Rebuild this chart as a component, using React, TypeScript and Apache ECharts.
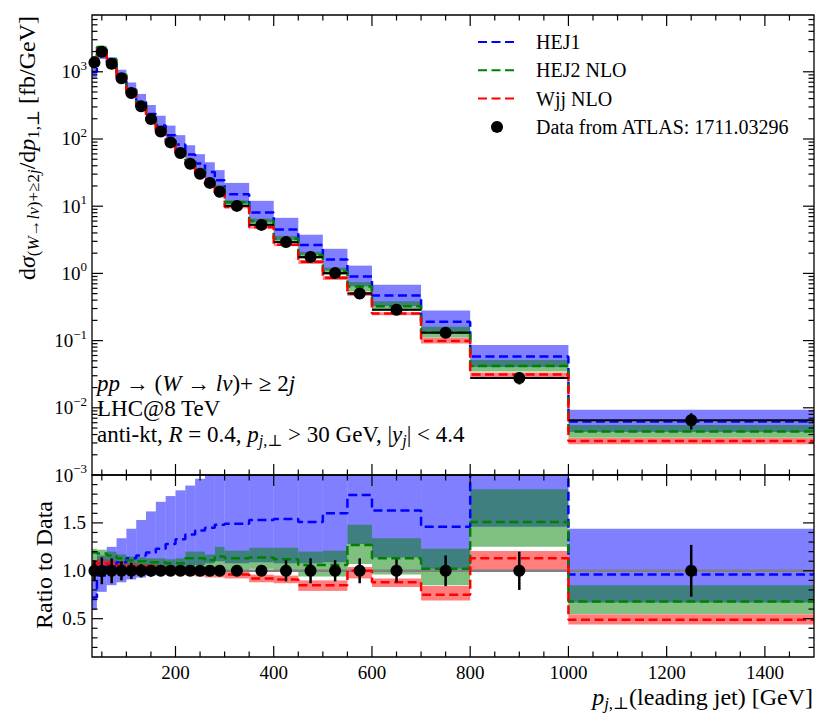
import React, { useEffect, useRef } from "react";
import * as echarts from "echarts";

// ---------------- data ----------------
const binEdges = [30, 40, 60, 80, 100, 120, 140, 160, 180, 200, 220, 240, 260, 280, 300, 350, 400, 450, 500, 550, 600, 700, 800, 1000, 1500];

// ATLAS data, dsigma/dp [fb/GeV], per bin
const dataValues = [1380, 1990, 1320, 800, 483, 306, 198, 129, 89, 62, 42.7, 30.3, 22.2, 16.4, 10.1, 5.27, 2.92, 1.75, 1.01, 0.502, 0.288, 0.131, 0.0278, 0.00652];
// relative uncertainty of the data
const dataRelErr = [0.11, 0.14, 0.13, 0.1, 0.085, 0.07, 0.06, 0.055, 0.05, 0.045, 0.04, 0.04, 0.04, 0.04, 0.035, 0.04, 0.11, 0.13, 0.11, 0.13, 0.12, 0.16, 0.2, 0.27];

// predictions as ratio to data: central, lower and upper band edge
const hej1Ratio = [0.72, 0.95, 1.05, 1.09, 1.13, 1.16, 1.19, 1.23, 1.28, 1.33, 1.38, 1.42, 1.45, 1.48, 1.49, 1.53, 1.54, 1.51, 1.6, 1.79, 1.63, 1.46, 2.09, 0.96];
const hej1Low = [0.59, 0.78, 0.85, 0.88, 0.91, 0.93, 0.95, 0.96, 0.97, 0.99, 1.03, 1.06, 1.08, 1.1, 1.08, 1.09, 1.08, 1.08, 1.09, 1.28, 1.14, 1.02, 1.46, 0.67];
const hej1High = [1.04, 1.16, 1.25, 1.34, 1.44, 1.53, 1.62, 1.72, 1.78, 1.84, 1.89, 1.96, 2.03, 2.1, 2.2, 2.28, 2.3, 2.15, 2.3, 2.6, 2.35, 2.15, 3.1, 1.44];

const hej2Ratio = [1.19, 1.18, 1.16, 1.13, 1.11, 1.1, 1.09, 1.09, 1.08, 1.08, 1.13, 1.13, 1.11, 1.15, 1.13, 1.14, 1.12, 1.06, 1.06, 1.27, 1.13, 1.02, 1.51, 0.68];
const hej2Low = [1.1, 1.1, 1.08, 1.05, 1.03, 1.02, 1.01, 1.0, 1.0, 1.0, 1.02, 1.02, 1.0, 1.02, 1.01, 1.02, 1.0, 0.94, 0.94, 1.07, 0.96, 0.85, 1.25, 0.55];
const hej2High = [1.23, 1.22, 1.2, 1.17, 1.15, 1.14, 1.13, 1.13, 1.12, 1.13, 1.2, 1.2, 1.17, 1.25, 1.21, 1.24, 1.24, 1.2, 1.21, 1.48, 1.34, 1.23, 1.85, 0.85];

const wjjRatio = [1.07, 1.08, 1.07, 1.05, 1.04, 1.03, 1.03, 1.02, 1.01, 1.0, 0.99, 0.98, 0.97, 0.97, 0.96, 0.92, 0.91, 0.85, 0.85, 1.0, 0.88, 0.75, 1.13, 0.49];
const wjjLow = [1.03, 1.04, 1.03, 1.01, 1.0, 0.99, 0.99, 0.98, 0.97, 0.96, 0.95, 0.94, 0.93, 0.93, 0.92, 0.88, 0.87, 0.79, 0.79, 0.92, 0.83, 0.69, 1.005, 0.44];
const wjjHigh = [1.11, 1.12, 1.11, 1.09, 1.08, 1.07, 1.07, 1.06, 1.05, 1.04, 1.03, 1.02, 1.01, 1.01, 1.005, 0.96, 0.95, 0.9, 0.9, 1.04, 0.92, 0.84, 1.207, 0.546];

const seriesNames = ["HEJ1", "HEJ2 NLO", "Wjj NLO", "Data from ATLAS: 1711.03296"];

// ticks / labels
const xLabelValues = [200, 400, 600, 800, 1000, 1200, 1400];
const xMinorTicks = [50, 100, 150, 250, 300, 350, 450, 500, 550, 650, 700, 750, 850, 900, 950, 1050, 1100, 1150, 1250, 1300, 1350, 1450];
const ratioLabelValues = [0.5, 1.0, 1.5];
const ratioMinorTicks = [0.2, 0.3, 0.4, 0.6, 0.7, 0.8, 0.9, 1.1, 1.2, 1.3, 1.4, 1.6, 1.7, 1.8, 1.9];
const logDecades = [-3, -2, -1, 0, 1, 2, 3];
const logMinorFactors = [2, 3, 4, 5, 6, 7, 8, 9];

// ---------------- helpers ----------------
const FONT = "'Liberation Serif', 'DejaVu Serif', serif";
const BLUE = "#0000ff";
const GREEN = "#008000";
const RED = "#ff0000";
const DASH = [9, 4.5];

const nLast = binEdges.length - 1;
const binCenters = dataValues.map((_, i) => (binEdges[i] + binEdges[i + 1]) / 2);
const ones = dataValues.map((v) => v / v);

function stepPoints(vals: number[], scale: number[]) {
  const pts = vals.map((v, i) => [binEdges[i], v * scale[i]]);
  pts.push([binEdges[nLast], vals[vals.length - 1] * scale[vals.length - 1]]);
  return pts;
}
function bandItems(lo: number[], hi: number[], scale: number[]) {
  return lo.map((l, i) => [binEdges[i], binEdges[i + 1], l * scale[i], hi[i] * scale[i]]);
}

function bandRender(fill: string) {
  return (params: any, api: any) => {
    const cs = params.coordSys;
    const p0 = api.coord([api.value(0), api.value(3)]);
    const p1 = api.coord([api.value(1), api.value(2)]);
    const top = Math.max(Math.min(p0[1], p1[1]), cs.y);
    const bot = Math.min(Math.max(p0[1], p1[1]), cs.y + cs.height);
    const left = Math.max(Math.min(p0[0], p1[0]), cs.x);
    const right = Math.min(Math.max(p0[0], p1[0]), cs.x + cs.width);
    if (bot <= top || right <= left) return null;
    return {
      type: "rect",
      shape: { x: left, y: top, width: right - left, height: bot - top },
      style: { fill },
      silent: true,
    };
  };
}

function errRender(withHoriz: boolean) {
  return (params: any, api: any) => {
    const c = api.value(0);
    const a = api.coord([c, api.value(1)]);
    const b = api.coord([c, api.value(2)]);
    const style = { stroke: "#000", lineWidth: 2.5 };
    const children: any[] = [
      { type: "line", shape: { x1: a[0], y1: a[1], x2: b[0], y2: b[1] }, style },
    ];
    if (withHoriz) {
      const l = api.coord([api.value(3), api.value(5)]);
      const r = api.coord([api.value(4), api.value(5)]);
      children.push({ type: "line", shape: { x1: l[0], y1: l[1], x2: r[0], y2: r[1] }, style: { stroke: "#000", lineWidth: 2 } });
    }
    return { type: "group", children, silent: true };
  };
}

const TICK_STYLE = { stroke: "#000", lineWidth: 1.2 };
function xTickRender(params: any, api: any) {
  const cs = params.coordSys;
  const px = api.coord([api.value(0), api.value(1)])[0];
  const L = api.value(2) ? 11 : 5.5;
  const children: any[] = [];
  if (px > cs.x + 0.5 && px < cs.x + cs.width - 0.5) {
    children.push({ type: "line", shape: { x1: px, y1: cs.y + cs.height, x2: px, y2: cs.y + cs.height - L }, style: TICK_STYLE });
    children.push({ type: "line", shape: { x1: px, y1: cs.y, x2: px, y2: cs.y + L }, style: TICK_STYLE });
  }
  if (params.dataIndex === 0) {
    children.push({
      type: "rect",
      shape: { x: cs.x, y: cs.y, width: cs.width, height: cs.height },
      style: { fill: "none", stroke: "#000", lineWidth: 1.3 },
    });
  }
  return { type: "group", children, silent: true };
}
function yTickRender(params: any, api: any) {
  const cs = params.coordSys;
  const py = api.coord([api.value(0), api.value(1)])[1];
  const L = api.value(2) ? 11 : 5.5;
  const children: any[] = [];
  if (py > cs.y + 0.5 && py < cs.y + cs.height - 0.5) {
    children.push({ type: "line", shape: { x1: cs.x, y1: py, x2: cs.x + L, y2: py }, style: TICK_STYLE });
    children.push({ type: "line", shape: { x1: cs.x + cs.width, y1: py, x2: cs.x + cs.width - L, y2: py }, style: TICK_STYLE });
  }
  return { type: "group", children, silent: true };
}

const xRef = binEdges[0] + 70;
const yRef = 1;
const xTickItems = [...xLabelValues.map((v) => [v, yRef, 1]), ...xMinorTicks.map((v) => [v, yRef, 0])];
const logMajor = logDecades.map((d) => Math.pow(10, d));
const logMinor = logDecades.flatMap((d) => logMinorFactors.map((f) => f * Math.pow(10, d)));
const yTickTopItems = [...logMajor.map((v) => [xRef, v, 1]), ...logMinor.map((v) => [xRef, v, 0])];
const yTickRatioItems = [...ratioLabelValues.map((v) => [xRef, v, 1]), ...ratioMinorTicks.map((v) => [xRef, v, 0])];

function richSet(main: number, sub: number) {
  return {
    i: { fontFamily: FONT, fontSize: main, fontStyle: "italic", lineHeight: main + 5, fill: "#000", color: "#000" },
    m: { fontFamily: FONT, fontSize: main, lineHeight: main + 5, fill: "#000", color: "#000" },
    s: { fontFamily: FONT, fontSize: sub, lineHeight: sub, verticalAlign: "bottom", fill: "#000", color: "#000" },
    si: { fontFamily: FONT, fontSize: sub, fontStyle: "italic", lineHeight: sub, verticalAlign: "bottom", fill: "#000", color: "#000" },
  };
}

function textEl(x: number, y: number, text: string, size: number, sub: number, align: string, rotation = 0) {
  return {
    type: "text",
    x,
    y,
    rotation,
    silent: true,
    z: 10,
    style: {
      text,
      fill: "#000",
      fontFamily: FONT,
      fontSize: size,
      lineHeight: size + 5,
      textAlign: align,
      align,
      textVerticalAlign: "middle",
      verticalAlign: "middle",
      rich: richSet(size, sub),
    },
  };
}

function modelSeries(name: string, color: string, fill: string, ratio: number[], lo: number[], hi: number[], scale: number[], gi: number) {
  return [
    {
      type: "custom",
      xAxisIndex: gi,
      yAxisIndex: gi,
      renderItem: bandRender(fill),
      data: bandItems(lo, hi, scale),
      encode: { x: [0, 1], y: [2, 3] },
      z: 1,
      silent: true,
    },
    {
      type: "line",
      name,
      xAxisIndex: gi,
      yAxisIndex: gi,
      data: stepPoints(ratio, scale),
      step: "end",
      symbol: "none",
      showSymbol: false,
      color,
      itemStyle: { color },
      lineStyle: { color, width: 2.5, type: DASH },
      clip: true,
      z: 3,
      silent: true,
    },
  ];
}

export default function App() {
  const ref = useRef<HTMLDivElement>(null);

  useEffect(() => {
    if (!ref.current) return;
    const chart = echarts.init(ref.current, null, { renderer: "svg" });

    const axisCommon = {
      axisLine: { show: false },
      axisTick: { show: false },
      splitLine: { show: false },
      minorTick: { show: false },
    };

    const blueFill = "rgba(0,0,255,0.5)";
    const greenFill = "rgba(0,128,0,0.5)";
    const redFill = "rgba(255,0,0,0.5)";

    const topBands = [
      ...modelSeries(seriesNames[0], BLUE, blueFill, hej1Ratio, hej1Low, hej1High, dataValues, 0),
      ...modelSeries(seriesNames[1], GREEN, greenFill, hej2Ratio, hej2Low, hej2High, dataValues, 0),
      ...modelSeries(seriesNames[2], RED, redFill, wjjRatio, wjjLow, wjjHigh, dataValues, 0),
    ];
    const ratioBands = [
      ...modelSeries(seriesNames[0], BLUE, blueFill, hej1Ratio, hej1Low, hej1High, ones, 1),
      ...modelSeries(seriesNames[1], GREEN, greenFill, hej2Ratio, hej2Low, hej2High, ones, 1),
      ...modelSeries(seriesNames[2], RED, redFill, wjjRatio, wjjLow, wjjHigh, ones, 1),
    ];

    const option: any = {
      animation: false,
      backgroundColor: "#ffffff",
      grid: [
        { left: 92, top: 15, width: 722, height: 460, containLabel: false, outerBoundsMode: "none" },
        { left: 92, top: 475, width: 722, height: 182, containLabel: false, outerBoundsMode: "none" },
      ],
      xAxis: [
        { gridIndex: 0, type: "value", min: 30, max: 1500, ...axisCommon, axisLabel: { show: false } },
        {
          gridIndex: 1,
          type: "value",
          min: 30,
          max: 1500,
          splitNumber: 7,
          ...axisCommon,
          axisLabel: {
            show: true,
            margin: 6,
            fontFamily: FONT,
            fontSize: 19,
            color: "#000",
            customValues: xLabelValues,
            showMinLabel: true,
            showMaxLabel: true,
            formatter: (v: number) => (xLabelValues.includes(v) ? String(v) : ""),
          },
        },
      ],
      yAxis: [
        {
          gridIndex: 0,
          type: "log",
          logBase: 10,
          min: 0.001,
          max: 7000,
          ...axisCommon,
          axisLabel: {
            show: true,
            margin: 5,
            color: "#000",
            formatter: (v: number) => {
              const lg = Math.log10(v);
              const e = Math.round(lg);
              if (Math.abs(lg - e) > 1e-6) return "";
              return "{b|10}{s|" + (e < 0 ? "\u2212" + -e : String(e)) + "}";
            },
            rich: {
              b: { fontFamily: FONT, fontSize: 19, lineHeight: 26, color: "#000" },
              s: { fontFamily: FONT, fontSize: 13, lineHeight: 13, verticalAlign: "top", color: "#000" },
            },
          },
        },
        {
          gridIndex: 1,
          type: "value",
          min: 0.1,
          max: 2.0,
          splitNumber: 4,
          ...axisCommon,
          axisLabel: {
            show: true,
            margin: 6,
            fontFamily: FONT,
            fontSize: 19,
            color: "#000",
            customValues: ratioLabelValues,
            formatter: (v: number) =>
              ratioLabelValues.some((r) => Math.abs(r - v) < 1e-6) ? v.toFixed(1) : "",
          },
        },
      ],
      legend: {
        data: seriesNames.map((n, i) => (i < 3 ? { name: n, itemStyle: { opacity: 0 } } : { name: n })),
        orient: "vertical",
        left: 477,
        top: 32,
        padding: 0,
        itemWidth: 38,
        itemHeight: 12,
        itemGap: 8.3,
        selectedMode: false,
        textStyle: { fontFamily: FONT, fontSize: 20, color: "#000", lineHeight: 20, padding: [0, 0, 0, 15] },
      },
      graphic: [
        textEl(97, 383, "{i|pp} → ({i|W} → {i|lν})+ ≥ 2{i|j}", 23, 16, "left"),
        textEl(97, 408, "LHC@8 TeV", 23, 16, "left"),
        textEl(97, 434, "anti-kt, {i|R} = 0.4, {i|p}{si|j}{s|,⊥} > 30 GeV, |{i|y}{si|j}| < 4.4", 23, 16, "left"),
        textEl(813, 697, "{i|p}{si|j}{s|,⊥}(leading jet) [GeV]", 24, 17, "right"),
        textEl(
          27,
          16,
          "d{i|σ}{s|(}{si|W}{s|→}{si|lν}{s|)+≥2}{si|j}/d{i|p}{s|1,⊥} [fb/GeV]",
          24,
          17,
          "right",
          Math.PI / 2
        ),
        textEl(44, 565, "Ratio to Data", 24, 17, "center", Math.PI / 2),
      ],
      series: [
        ...topBands,
        {
          type: "custom",
          xAxisIndex: 0,
          yAxisIndex: 0,
          renderItem: errRender(true),
          data: binCenters.map((c, i) => [
            c,
            dataValues[i] * (1 - dataRelErr[i]),
            dataValues[i] * (1 + dataRelErr[i]),
            binEdges[i],
            binEdges[i + 1],
            dataValues[i],
          ]),
          encode: { x: 0, y: [1, 2] },
          z: 4,
          silent: true,
        },
        {
          type: "scatter",
          name: seriesNames[3],
          xAxisIndex: 0,
          yAxisIndex: 0,
          data: binCenters.map((c, i) => [c, dataValues[i]]),
          symbol: "circle",
          symbolSize: 12,
          itemStyle: { color: "#000", opacity: 1 },
          color: "#000",
          z: 5,
          silent: true,
        },
        ...ratioBands.filter((s: any) => s.type === "custom"),
        {
          type: "line",
          xAxisIndex: 1,
          yAxisIndex: 1,
          data: [
            [binEdges[0], ones[0]],
            [binEdges[nLast], ones[0]],
          ],
          symbol: "none",
          lineStyle: { color: "#808080", width: 2.5 },
          z: 2,
          silent: true,
        },
        ...ratioBands.filter((s: any) => s.type === "line"),
        {
          type: "custom",
          xAxisIndex: 1,
          yAxisIndex: 1,
          renderItem: errRender(false),
          data: binCenters.map((c, i) => [c, ones[i] - dataRelErr[i], ones[i] + dataRelErr[i]]),
          encode: { x: 0, y: [1, 2] },
          z: 4,
          silent: true,
        },
        {
          type: "scatter",
          name: seriesNames[3],
          xAxisIndex: 1,
          yAxisIndex: 1,
          data: binCenters.map((c, i) => [c, ones[i]]),
          symbol: "circle",
          symbolSize: 12,
          itemStyle: { color: "#000", opacity: 1 },
          color: "#000",
          z: 5,
          silent: true,
        },
        // axis ticks and frames (inward, on all four sides)
        { type: "custom", xAxisIndex: 0, yAxisIndex: 0, renderItem: xTickRender, data: xTickItems, encode: { x: 0, y: 1 }, z: 8, silent: true },
        { type: "custom", xAxisIndex: 0, yAxisIndex: 0, renderItem: yTickRender, data: yTickTopItems, encode: { x: 0, y: 1 }, z: 8, silent: true },
        { type: "custom", xAxisIndex: 1, yAxisIndex: 1, renderItem: xTickRender, data: xTickItems, encode: { x: 0, y: 1 }, z: 8, silent: true },
        { type: "custom", xAxisIndex: 1, yAxisIndex: 1, renderItem: yTickRender, data: yTickRatioItems, encode: { x: 0, y: 1 }, z: 8, silent: true },
      ],
    };

    chart.setOption(option);
    return () => {
      chart.dispose();
    };
  }, []);

  return (
    <div
      ref={ref}
      style={{ position: "fixed", left: 0, top: 0, width: 830, height: 727, background: "#fff" }}
    />
  );
}
